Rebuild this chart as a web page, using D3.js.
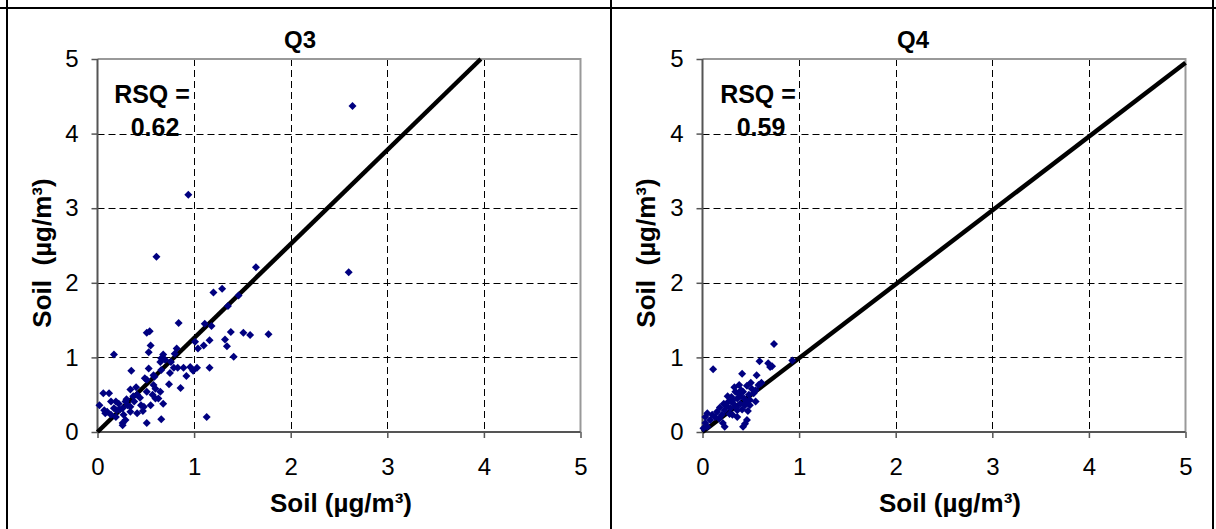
<!DOCTYPE html>
<html>
<head>
<meta charset="utf-8">
<script src="https://cdn.jsdelivr.net/npm/d3@7"></script>
<style>
  html, body { margin: 0; padding: 0; background: #fff; }
  svg { display: block; }
  text { font-family: "Liberation Sans", Arial, sans-serif; white-space: pre; }
</style>
</head>
<body>
<svg id="chart" width="1216" height="529"></svg>
<script>
// ---------------- DATA ----------------
const tickValues = [0, 1, 2, 3, 4, 5];
const titles = ["Q3", "Q4"];
const axisLabelX = "Soil (µg/m³)";
const axisLabelY = "Soil  (µg/m³)";
const rsqLabel = "RSQ =";
const rsqValues = ["0.62", "0.59"];
const fitSlopes = [1.26, 0.99];

const q3X = [2.64, 0.94, 0.61, 1.64, 2.60, 1.29, 1.20, 1.46, 1.35, 0.84, 1.11, 1.18, 0.51, 0.54, 1.38, 1.51, 1.58, 1.77,
  0.55, 1.32, 1.16, 1.01, 1.34, 1.10, 1.04, 0.53, 0.82, 1.41, 0.68, 0.66, 0.70, 0.80, 0.53, 0.65, 0.79, 0.83, 0.89,
  0.96, 1.03, 1.16, 0.99, 0.75, 0.92, 0.66, 0.58, 0.17, 0.35, 0.74, 0.86, 0.34, 0.06, 0.12, 1.13, 0.51, 0.66, 0.26,
  0.02, 0.08, 0.68, 0.63, 0.49, 0.59, 0.58, 0.76, 0.51, 0.60, 0.41, 0.51, 0.57, 0.65, 0.60, 0.14, 0.19, 0.22, 0.29,
  0.31, 0.34, 0.38, 0.45, 0.48, 0.55, 0.07, 0.10, 0.17, 0.20, 0.26, 0.34, 0.41, 0.14, 0.19, 0.27, 0.29, 0.26, 0.44,
  0.23, 0.37, 0.30, 0.47, 0.40];
const q3Y = [4.37, 3.18, 2.35, 2.21, 2.14, 1.92, 1.87, 1.83, 1.69, 1.46, 1.45, 1.42, 1.33, 1.35, 1.34, 1.33, 1.30, 1.31,
  1.16, 1.24, 1.23, 1.21, 1.15, 1.16, 1.12, 1.07, 1.12, 1.01, 1.04, 0.99, 0.97, 1.05, 0.85, 0.94, 0.86, 0.86, 0.86,
  0.87, 0.86, 0.86, 0.82, 0.79, 0.75, 0.83, 0.76, 1.04, 0.82, 0.64, 0.59, 0.57, 0.52, 0.52, 0.20, 0.12, 0.17, 0.09,
  0.36, 0.25, 0.38, 0.45, 0.72, 0.74, 0.63, 0.94, 0.70, 0.58, 0.50, 0.54, 0.50, 0.54, 0.45, 0.41, 0.41, 0.38, 0.41,
  0.36, 0.34, 0.41, 0.36, 0.34, 0.36, 0.29, 0.27, 0.32, 0.29, 0.32, 0.27, 0.25, 0.23, 0.20, 0.23, 0.16, 0.12, 0.46,
  0.30, 0.48, 0.44, 0.28, 0.60];

const q4X = [0.74, 0.93, 0.59, 0.68, 0.72, 0.70, 0.11, 0.41, 0.56, 0.61, 0.58, 0.38, 0.51, 0.55, 0.34, 0.37, 0.42,
  0.48, 0.53, 0.30, 0.36, 0.43, 0.49, 0.27, 0.32, 0.39, 0.44, 0.22, 0.18, 0.23, 0.29, 0.36, 0.41, 0.15, 0.10, 0.13,
  0.05, 0.03, 0.03, 0.05, 0.01, 0.23, 0.46, 0.42, 0.44, 0.08, 0.17, 0.31, 0.36, 0.20, 0.49, 0.55, 0.33, 0.40, 0.46,
  0.26, 0.45, 0.28, 0.35, 0.50, 0.47, 0.31, 0.39, 0.21, 0.25];
const q4Y = [1.18, 0.96, 0.95, 0.92, 0.88, 0.87, 0.84, 0.78, 0.76, 0.66, 0.63, 0.63, 0.58, 0.56, 0.54, 0.52, 0.54,
  0.50, 0.52, 0.47, 0.45, 0.45, 0.43, 0.41, 0.38, 0.38, 0.36, 0.38, 0.33, 0.29, 0.32, 0.29, 0.30, 0.27, 0.23, 0.20,
  0.25, 0.20, 0.12, 0.07, 0.05, 0.07, 0.16, 0.07, 0.11, 0.16, 0.18, 0.23, 0.20, 0.23, 0.36, 0.41, 0.60, 0.56, 0.62,
  0.48, 0.40, 0.24, 0.33, 0.66, 0.28, 0.42, 0.48, 0.12, 0.35];

// ---------------- LAYOUT ----------------
const panels = [
  { title: titles[0], xs: q3X, ys: q3Y, slope: fitSlopes[0], rsq: rsqValues[0],
    left: 97.5, right: 580.5, top: 59, bottom: 432, titleX: 300, yLabelX: 41, rsqX: 152, xLabelX: 341 },
  { title: titles[1], xs: q4X, ys: q4Y, slope: fitSlopes[1], rsq: rsqValues[1],
    left: 702.5, right: 1185.5, top: 59, bottom: 432, titleX: 913, yLabelX: 645, rsqX: 758, xLabelX: 950 }
];

const svg = d3.select("#chart");
svg.append("rect").attr("width", 1216).attr("height", 529).attr("fill", "#fff");

// table frame
const frame = svg.append("g").attr("stroke", "#000").attr("stroke-width", 2);
frame.append("line").attr("x1", 0).attr("x2", 1216).attr("y1", 8).attr("y2", 8);
[7, 611, 1213].forEach(x => frame.append("line").attr("x1", x).attr("x2", x).attr("y1", 0).attr("y2", 529));

const diamond = "M0,-4L4,0L0,4L-4,0Z";

panels.forEach(p => {
  const x = d3.scaleLinear().domain([0, 5]).range([p.left, p.right]);
  const y = d3.scaleLinear().domain([0, 5]).range([p.bottom, p.top]);
  const g = svg.append("g");

  // gridlines
  const grid = g.append("g").attr("stroke", "#000").attr("stroke-width", 1).attr("stroke-dasharray", "7,4");
  tickValues.filter(v => v > 0 && v < 5).forEach(v => {
    grid.append("line").attr("x1", Math.round(x(v)) + 0.5).attr("x2", Math.round(x(v)) + 0.5)
      .attr("y1", p.top).attr("y2", p.bottom);
    grid.append("line").attr("y1", Math.round(y(v)) + 0.5).attr("y2", Math.round(y(v)) + 0.5)
      .attr("x1", p.left).attr("x2", p.right);
  });

  // plot border (top/right gray)
  g.append("path")
    .attr("d", `M${p.left},${p.top}H${p.right}V${p.bottom}`)
    .attr("fill", "none").attr("stroke", "#999").attr("stroke-width", 2);

  // axes
  const ax = g.append("g").attr("transform", `translate(0,${p.bottom})`)
    .call(d3.axisBottom(x).tickValues(tickValues).tickSize(6).tickPadding(20).tickFormat(d3.format("d")));
  const ay = g.append("g").attr("transform", `translate(${p.left},0)`)
    .call(d3.axisLeft(y).tickValues(tickValues).tickSize(6).tickPadding(13).tickFormat(d3.format("d")));
  [ax, ay].forEach(a => {
    a.select(".domain").attr("stroke", "#555").attr("stroke-width", 2);
    a.selectAll(".tick line").attr("stroke", "#555").attr("stroke-width", 1.5);
    a.selectAll(".tick text").attr("font-size", 24).attr("fill", "#000")
      .attr("font-family", "Liberation Sans, Arial, sans-serif");
  });
  ax.select(".domain").attr("d", `M${p.left},0H${p.right}`);
  ay.select(".domain").attr("d", `M0,${p.top}V${p.bottom}`);

  // fit line
  const xEnd = Math.min(5, 5 / p.slope);
  g.append("line")
    .attr("x1", x(0)).attr("y1", y(0))
    .attr("x2", x(xEnd)).attr("y2", y(p.slope * xEnd))
    .attr("stroke", "#000").attr("stroke-width", 4.5);

  // points
  g.append("g").selectAll("path").data(p.xs.map((v, i) => [v, p.ys[i]])).join("path")
    .attr("d", diamond)
    .attr("transform", d => `translate(${x(d[0])},${y(d[1])})`)
    .attr("fill", "#000080");

  // title
  g.append("text").attr("x", p.titleX).attr("y", 48).attr("text-anchor", "middle")
    .attr("font-size", 24).attr("font-weight", "bold").text(p.title);

  // rsq
  g.append("text").attr("x", p.rsqX).attr("y", 103).attr("text-anchor", "middle")
    .attr("font-size", 25).attr("font-weight", "bold").text(rsqLabel);
  g.append("text").attr("x", p.rsqX + 3).attr("y", 136).attr("text-anchor", "middle")
    .attr("font-size", 25).attr("font-weight", "bold").text(p.rsq);

  // axis labels
  g.append("text").attr("x", p.xLabelX).attr("y", 512).attr("text-anchor", "middle")
    .attr("font-size", 26).attr("font-weight", "bold").text(axisLabelX);
  g.append("text").attr("transform", `translate(${p.yLabelX + 10},253) rotate(-90)`)
    .attr("text-anchor", "middle").attr("xml:space", "preserve")
    .attr("font-size", 26).attr("font-weight", "bold").text(axisLabelY);
});
</script>
</body>
</html>
